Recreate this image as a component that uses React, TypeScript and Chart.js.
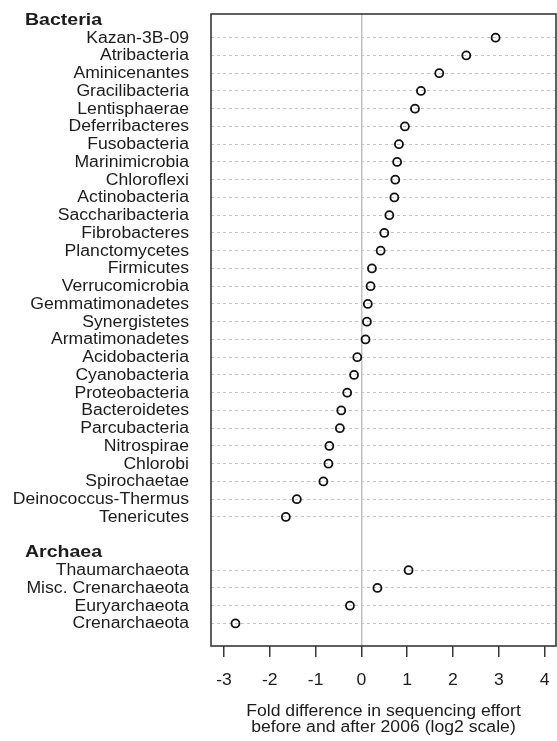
import React, { useEffect, useRef } from "react";
import { Chart, registerables } from "chart.js";

Chart.register(...registerables);

const bacteriaNames = [
  "Kazan-3B-09", "Atribacteria", "Aminicenantes", "Gracilibacteria", "Lentisphaerae",
  "Deferribacteres", "Fusobacteria", "Marinimicrobia", "Chloroflexi", "Actinobacteria",
  "Saccharibacteria", "Fibrobacteres", "Planctomycetes", "Firmicutes", "Verrucomicrobia",
  "Gemmatimonadetes", "Synergistetes", "Armatimonadetes", "Acidobacteria", "Cyanobacteria",
  "Proteobacteria", "Bacteroidetes", "Parcubacteria", "Nitrospirae", "Chlorobi",
  "Spirochaetae", "Deinococcus-Thermus", "Tenericutes",
];
const bacteriaValues = [
  2.93, 2.29, 1.70, 1.30, 1.17,
  0.95, 0.82, 0.78, 0.74, 0.72,
  0.61, 0.50, 0.42, 0.23, 0.20,
  0.14, 0.12, 0.09, -0.09, -0.16,
  -0.31, -0.44, -0.47, -0.70, -0.72,
  -0.83, -1.41, -1.65,
];
const archaeaNames = ["Thaumarchaeota", "Misc. Crenarchaeota", "Euryarchaeota", "Crenarchaeota"];
const archaeaValues = [1.03, 0.35, -0.25, -2.75];
const groupTitles = ["Bacteria", "Archaea"];
const xTickValues = [-3, -2, -1, 0, 1, 2, 3, 4];
const xTitleLines = ["Fold difference in sequencing effort", "before and after 2006 (log2 scale)"];

const TEXT_STRETCH = 1.13;
const FAMILY = '"Liberation Sans", Arial, Helvetica, sans-serif';
const TEXT_COLOR = "#1c1c1c";

export default function App() {
  const ref = useRef<HTMLCanvasElement>(null);

  useEffect(() => {
    const canvas = ref.current;
    if (!canvas) return;

    const bacteriaRows = bacteriaNames.map((_, i) => i);
    const archaeaStart = bacteriaNames.length + 2;
    const archaeaRows = archaeaNames.map((_, j) => archaeaStart + j);
    const headerRows = [-1, archaeaStart - 1];
    const allRows = [...bacteriaRows, ...archaeaRows];
    const allNames = [...bacteriaNames, ...archaeaNames];

    const points = [
      ...bacteriaValues.map((v, i) => ({ x: v, y: bacteriaRows[i] })),
      ...archaeaValues.map((v, j) => ({ x: v, y: archaeaRows[j] })),
    ];

    const drawText = (
      ctx: CanvasRenderingContext2D,
      text: string,
      x: number,
      y: number,
      align: CanvasTextAlign,
      font: string
    ) => {
      ctx.save();
      ctx.font = font;
      ctx.fillStyle = TEXT_COLOR;
      ctx.textAlign = align;
      ctx.textBaseline = "middle";
      ctx.translate(x, y);
      ctx.scale(TEXT_STRETCH, 1);
      ctx.fillText(text, 0, 0);
      ctx.restore();
    };

    const textPlugin = {
      id: "textPlugin",
      beforeDatasetsDraw(chart: any) {
        const { ctx, chartArea } = chart;
        ctx.save();
        ctx.strokeStyle = "#383838";
        ctx.lineWidth = 1.6;
        ctx.strokeRect(chartArea.left, chartArea.top, chartArea.right - chartArea.left, chartArea.bottom - chartArea.top);
        ctx.restore();
      },
      afterDraw(chart: any) {
        const { ctx, chartArea, scales } = chart;
        const ys = scales.y;
        const xs = scales.x;
        const labelFont = `15.6px ${FAMILY}`;
        const headFont = `bold 17.3px ${FAMILY}`;
        allRows.forEach((r, i) => {
          drawText(ctx, allNames[i], chartArea.left - 22, ys.getPixelForValue(r) + 0.5, "right", labelFont);
        });
        headerRows.forEach((r, i) => {
          drawText(ctx, groupTitles[i], 25, ys.getPixelForValue(r), "left", headFont);
        });
        xTickValues.forEach((v) => {
          drawText(ctx, String(v), xs.getPixelForValue(v), chartArea.bottom + 34.5, "center", labelFont);
        });
        const cx = (chartArea.left + chartArea.right) / 2;
        xTitleLines.forEach((line, i) => {
          drawText(ctx, line, cx, chartArea.bottom + 66 + i * 15.6, "center", labelFont);
        });
      },
    };

    const chart = new Chart(canvas, {
      type: "scatter",
      data: {
        datasets: [
          {
            data: points,
            pointRadius: 4,
            pointHoverRadius: 4,
            borderWidth: 1.8,
            borderColor: "#111111",
            backgroundColor: "rgba(0,0,0,0)",
            pointStyle: "circle",
          },
        ],
      },
      options: {
        animation: false,
        responsive: false,
        devicePixelRatio: 1,
        layout: { autoPadding: false, padding: { top: 14, right: 1, left: 0, bottom: 0 } },
        plugins: { legend: { display: false }, tooltip: { enabled: false } },
        scales: {
          x: {
            type: "linear",
            min: -3.284,
            max: 4.249,
            afterBuildTicks: (scale: any) => {
              scale.ticks = xTickValues.map((v) => ({ value: v }));
            },
            afterFit: (scale: any) => {
              scale.height = 95;
            },
            ticks: { display: false },
            grid: {
              color: (c: any) => (c.tick && c.tick.value === 0 ? "#c2c2c2" : "rgba(0,0,0,0)"),
              lineWidth: 1.5,
              drawTicks: true,
              tickLength: 11,
              tickColor: "#383838",
              tickWidth: 1.5,
            },
            border: { display: false },
          },
          y: {
            type: "linear",
            reverse: true,
            min: -1.335,
            max: 34.27,
            afterBuildTicks: (scale: any) => {
              scale.ticks = allRows.map((v) => ({ value: v }));
            },
            afterFit: (scale: any) => {
              scale.width = 211;
            },
            ticks: { display: false },
            grid: {
              color: "#c4c4c4",
              lineWidth: 1,
              drawTicks: false,
            },
            border: { display: false, dash: [3, 3] },
          },
        },
      },
      plugins: [textPlugin],
    });

    return () => chart.destroy();
  }, []);

  return (
    <div style={{ position: "absolute", left: 0, top: 0, width: 557, height: 741, background: "#fff" }}>
      <canvas ref={ref} width={557} height={741} style={{ width: 557, height: 741, display: "block" }} />
    </div>
  );
}
